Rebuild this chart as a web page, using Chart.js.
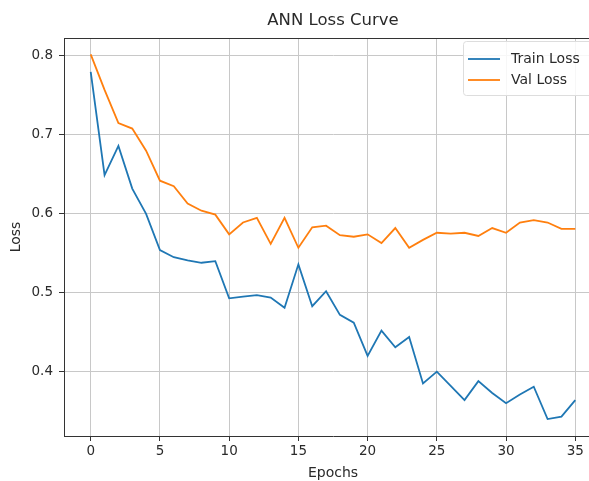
<!DOCTYPE html>
<html><head><meta charset="utf-8">
<script src="https://cdn.jsdelivr.net/npm/chart.js@4.4.0/dist/chart.umd.min.js"></script>
<style>html,body{margin:0;padding:0;background:#fff;overflow:hidden}#wrap{width:589px;height:481px;overflow:hidden}</style>
</head><body><div id="wrap"><canvas id="c" width="606" height="481"></canvas></div>
<script>
const epochs=[0,1,2,3,4,5,6,7,8,9,10,11,12,13,14,15,16,17,18,19,20,21,22,23,24,25,26,27,28,29,30,31,32,33,34,35];
const trainLoss=[0.780,0.649,0.686,0.632,0.600,0.554,0.545,0.541,0.538,0.540,0.493,0.495,0.497,0.494,0.481,0.536,0.483,0.502,0.472,0.462,0.420,0.452,0.431,0.444,0.385,0.400,0.382,0.364,0.388,0.373,0.360,0.371,0.381,0.340,0.343,0.364];
const valLoss=[0.802,0.757,0.715,0.708,0.680,0.642,0.635,0.613,0.604,0.599,0.574,0.589,0.595,0.562,0.595,0.557,0.583,0.585,0.573,0.571,0.574,0.563,0.582,0.557,0.567,0.576,0.575,0.576,0.572,0.582,0.576,0.589,0.592,0.589,0.581,0.581];
const xTicks=[0,5,10,15,20,25,30,35];
const yTicks=[0.4,0.5,0.6,0.7,0.8];
const chartTitle='ANN Loss Curve';
const xLabel='Epochs';
const yLabel='Loss';
const seriesNames=['Train Loss','Val Loss'];
const seriesColors=['#1f77b4','#ff7f0e'];

const FONT='DejaVu Sans';
const TXT='#2a2a2a';

const framePlugin={
  id:'frame',
  afterDraw(chart){
    const ctx=chart.ctx, a=chart.chartArea;
    ctx.save();
    ctx.strokeStyle='#333';ctx.lineWidth=1;
    ctx.beginPath();
    ctx.moveTo(a.left,a.top+0.5);ctx.lineTo(a.right,a.top+0.5);
    ctx.moveTo(a.right-0.5,a.top);ctx.lineTo(a.right-0.5,a.bottom);
    ctx.stroke();
    // title
    ctx.fillStyle=TXT;ctx.font='16.5px "'+FONT+'"';
    ctx.textAlign='center';ctx.textBaseline='middle';
    ctx.fillText(chartTitle,(a.left+a.right)/2,21);
    // legend
    const lx=463, ly=41, lw=130, lh=54;
    ctx.fillStyle='rgba(255,255,255,0.85)';
    ctx.strokeStyle='#dddddd';
    ctx.beginPath();
    if(ctx.roundRect){ctx.roundRect(lx+0.5,ly+0.5,lw,lh,3);}else{ctx.rect(lx+0.5,ly+0.5,lw,lh);}
    ctx.fill();ctx.stroke();
    ctx.font='14px "'+FONT+'"';ctx.textAlign='left';ctx.textBaseline='middle';
    chart.data.datasets.forEach((ds,i)=>{
      const y=59+i*21;
      ctx.strokeStyle=ds.borderColor;ctx.lineWidth=1.8;
      ctx.beginPath();ctx.moveTo(468,y);ctx.lineTo(500,y);ctx.stroke();
      ctx.fillStyle=TXT;ctx.fillText(ds.label,511,y);
    });
    ctx.restore();
  }
};

new Chart(document.getElementById('c'),{
  type:'line',
  data:{
    datasets:[
      {label:seriesNames[0],data:epochs.map((e,i)=>({x:e,y:trainLoss[i]})),borderColor:seriesColors[0],backgroundColor:seriesColors[0],borderWidth:1.8,pointRadius:0,tension:0,fill:false},
      {label:seriesNames[1],data:epochs.map((e,i)=>({x:e,y:valLoss[i]})),borderColor:seriesColors[1],backgroundColor:seriesColors[1],borderWidth:1.8,pointRadius:0,tension:0,fill:false}
    ]
  },
  options:{
    responsive:false,animation:false,devicePixelRatio:1,
    layout:{padding:{top:38,right:4,left:0,bottom:0}},
    plugins:{legend:{display:false},title:{display:false},tooltip:{enabled:false}},
    scales:{
      x:{type:'linear',min:-1.93,max:36.93,
        afterBuildTicks:s=>{s.ticks=xTicks.map(v=>({value:v}));},
        afterFit:s=>{s.height=45;},
        grid:{color:'#c8c8c8',lineWidth:1,tickColor:'#333',tickLength:5,drawTicks:true},
        border:{display:true,color:'#333',width:1},
        ticks:{font:{family:FONT,size:13.5},color:TXT,padding:2,maxRotation:0,autoSkip:false,callback:v=>String(v)},
        title:{display:true,text:xLabel,font:{family:FONT,size:14},color:TXT,padding:{top:0,bottom:-1}}
      },
      y:{type:'linear',min:0.3185,max:0.8228,
        afterBuildTicks:s=>{s.ticks=yTicks.map(v=>({value:v}));},
        afterFit:s=>{s.width=64;},
        grid:{color:'#c8c8c8',lineWidth:1,tickColor:'#333',tickLength:5,drawTicks:true},
        border:{display:true,color:'#333',width:1},
        ticks:{font:{family:FONT,size:13.5},color:TXT,padding:6,autoSkip:false,callback:v=>v.toFixed(1)},
        title:{display:true,text:yLabel,font:{family:FONT,size:14},color:TXT,padding:{top:8,bottom:0}}
      }
    }
  },
  plugins:[framePlugin]
});
</script></body></html>
